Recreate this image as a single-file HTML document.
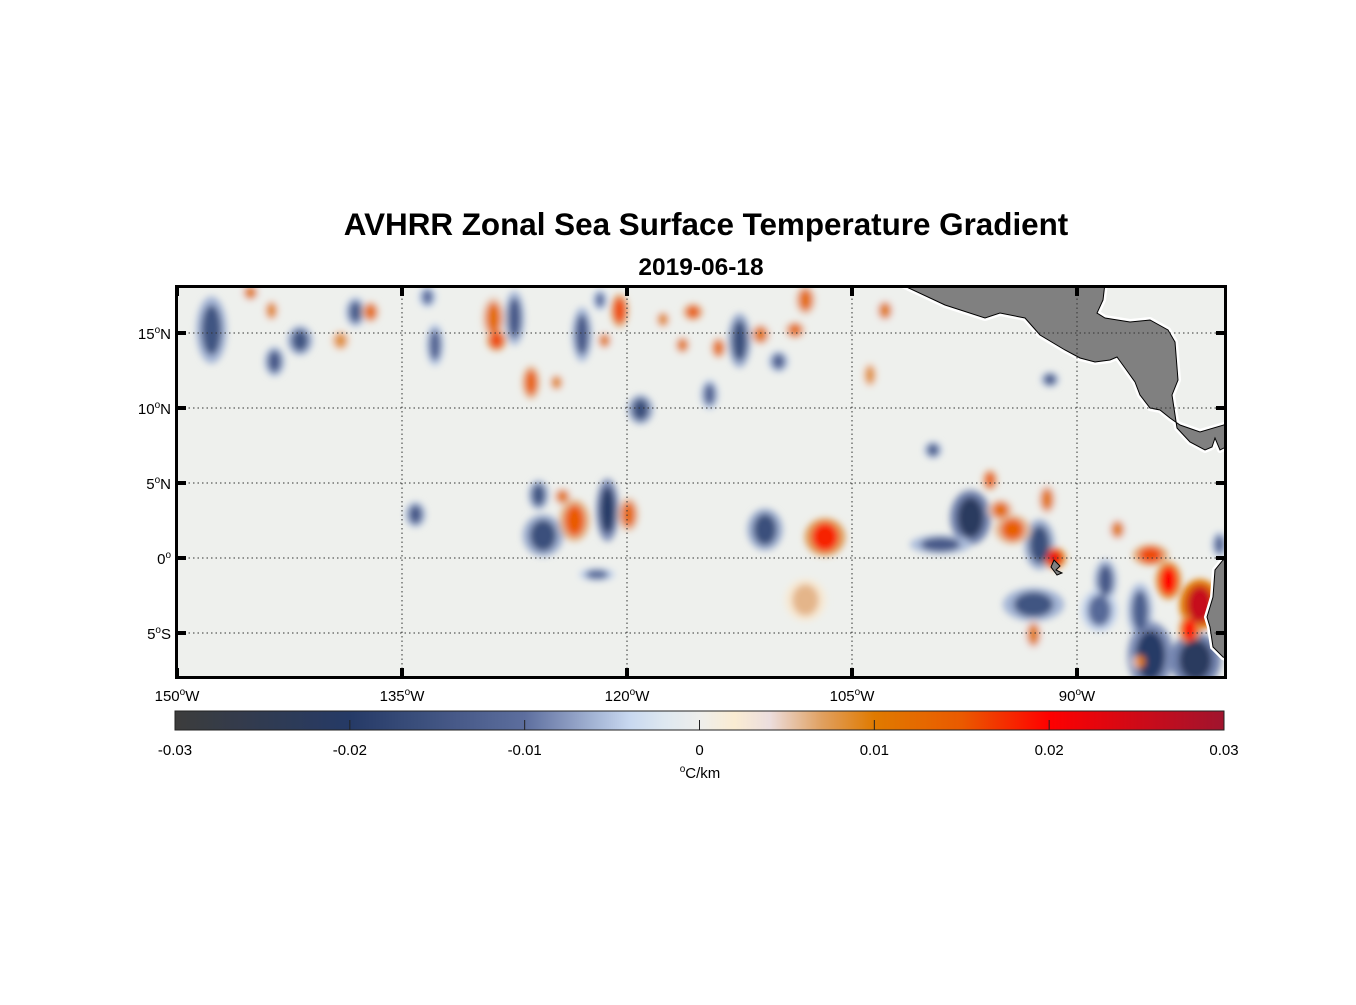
<!DOCTYPE html>
<html><head><meta charset="utf-8">
<style>
body{margin:0;background:#fff;width:1356px;height:1000px;overflow:hidden;font-family:"Liberation Sans",Arial,sans-serif;}
svg text{font-family:"Liberation Sans",Arial,sans-serif;}
</style></head>
<body>
<svg id="chart" width="1356" height="1000" viewBox="0 0 1356 1000" xmlns="http://www.w3.org/2000/svg">
<defs>
<clipPath id="mapclip"><rect x="177" y="288" width="1048" height="390"/></clipPath>
<filter id="blur" x="-50%" y="-50%" width="200%" height="200%"><feGaussianBlur stdDeviation="3.5"/></filter>
<linearGradient id="cbgrad" x1="0" x2="1" y1="0" y2="0"></linearGradient>
</defs>
<text x="706" y="235" text-anchor="middle" font-size="31.4" font-weight="bold">AVHRR Zonal Sea Surface Temperature Gradient</text>
<text x="701" y="275" text-anchor="middle" font-size="24.5" font-weight="bold">2019-06-18</text>
<g id="map" clip-path="url(#mapclip)">
<rect x="175" y="285" width="1052" height="394" fill="#eef0ed"/>
<g id="blobs" filter="url(#blur)"></g>
<g id="land">
<polygon fill="#808080" stroke="#fff" stroke-width="6" stroke-linejoin="round" points="898,283 945,305 985,318 1000,313 1025,318 1040,335 1065,350 1080,358 1095,362 1110,360 1117,357 1125,368 1135,382 1140,395 1150,408 1160,410 1170,418 1180,425 1200,432 1227,424 1230,420 1230,445 1220,450 1215,438 1212,447 1205,450 1190,442 1177,428 1172,395 1178,380 1175,342 1168,330 1150,320 1130,322 1105,318 1097,313 1103,300 1105,283"/>
<polygon fill="#808080" stroke="#000" stroke-width="1" points="898,283 945,305 985,318 1000,313 1025,318 1040,335 1065,350 1080,358 1095,362 1110,360 1117,357 1125,368 1135,382 1140,395 1150,408 1160,410 1170,418 1180,425 1200,432 1227,424 1230,420 1230,445 1220,450 1215,438 1212,447 1205,450 1190,442 1177,428 1172,395 1178,380 1175,342 1168,330 1150,320 1130,322 1105,318 1097,313 1103,300 1105,283"/>
<polygon fill="#808080" stroke="#fff" stroke-width="6" points="1230,558 1223,560 1215,570 1213,597 1207,617 1210,627 1213,647 1223,657 1230,660"/>
<polygon fill="#808080" stroke="#000" stroke-width="1" points="1230,558 1223,560 1215,570 1213,597 1207,617 1210,627 1213,647 1223,657 1230,660"/>
<polygon fill="#808080" stroke="#000" stroke-width="1" points="1054,560 1060,566 1056,570 1062,573 1057,575 1051,567"/>
</g>
<g id="grid"></g>
</g>
<rect x="176.5" y="286.5" width="1049" height="391" fill="none" stroke="#000" stroke-width="3"/>
<g id="ticks"></g>
<g id="cb">
<rect x="175" y="711" width="1049" height="19" fill="url(#cbgrad)" stroke="#222" stroke-width="1"/>
</g>
<text x="700" y="778" text-anchor="middle" font-size="15"><tspan font-size="10" dy="-6">o</tspan><tspan dy="6">C/km</tspan></text>
</svg>
<script>
// Data arrays
const blobLon = [-147.7,-141.8,-143.5,-138.1,-132.8,-133.3,-127.5,-123.0,-121.8,-119.1,-114.5,-112.5,-109.9,-125.9,-125.6,-121.3,-134.1,-110.8,-122.0,-97.1,-99.1,-92.5,-92.9,-88.1,-88.5,-85.8,-85.1,-82.1,-91.8,-99.6,-80.5,
 -145.1,-143.7,-137.1,-139.1,-128.9,-128.7,-126.4,-124.7,-121.5,-120.5,-117.6,-115.6,-116.3,-113.9,-111.1,-108.8,-108.1,-102.8,-124.3,-123.5,-119.9,-106.8,-95.8,-95.1,-94.3,-92.0,-91.5,-85.1,-83.9,-81.8,-82.5,-87.3,-92.9,-85.8,-108.1,-103.8];
const blobLat = [15.2,14.5,13.1,16.4,14.2,17.4,16.0,14.9,17.2,9.9,10.9,14.5,13.1,4.2,1.5,3.2,2.9,1.9,-1.1,2.7,0.9,0.9,-3.1,-1.5,-3.5,-3.5,-6.5,-6.8,11.9,7.2,0.9,
 17.7,16.5,16.4,14.5,16.0,14.5,11.7,11.7,14.5,16.5,15.9,16.4,14.2,14.0,14.9,15.2,17.2,16.5,4.1,2.5,2.9,1.4,5.2,3.2,1.9,3.9,0.0,0.2,-1.5,-3.1,-4.8,1.9,-5.1,-6.9,-2.8,12.2];
const blobVal = [-0.015,-0.015,-0.014,-0.013,-0.012,-0.010,-0.014,-0.014,-0.010,-0.016,-0.012,-0.016,-0.012,-0.015,-0.016,-0.020,-0.014,-0.016,-0.011,-0.022,-0.014,-0.016,-0.015,-0.014,-0.011,-0.013,-0.020,-0.022,-0.014,-0.013,-0.012,
 0.010,0.009,0.012,0.008,0.012,0.016,0.014,0.009,0.010,0.016,0.009,0.014,0.011,0.012,0.011,0.012,0.012,0.010,0.011,0.015,0.013,0.018,0.014,0.012,0.014,0.011,0.022,0.016,0.020,0.026,0.020,0.010,0.010,0.010,0.006,0.008];
const blobRx = [0.6,0.5,0.4,0.4,0.35,0.35,0.4,0.4,0.3,0.5,0.35,0.45,0.4,0.4,0.8,0.45,0.4,0.7,0.7,0.8,1.2,0.6,1.2,0.45,0.7,0.5,0.9,1.0,0.35,0.35,0.3,
 0.35,0.3,0.35,0.4,0.45,0.4,0.35,0.3,0.3,0.35,0.3,0.4,0.3,0.3,0.4,0.4,0.4,0.35,0.35,0.6,0.4,0.8,0.3,0.5,0.7,0.35,0.45,0.7,0.5,0.8,0.4,0.35,0.35,0.3,0.8,0.3];
const blobRy = [1.6,0.7,0.7,0.7,1.0,0.5,1.3,1.3,0.5,0.7,0.7,1.3,0.5,0.7,1.0,1.5,0.6,1.0,0.3,1.3,0.45,1.2,0.8,1.0,1.0,1.3,1.6,1.3,0.35,0.4,0.6,
 0.4,0.5,0.5,0.5,1.0,0.5,0.8,0.4,0.4,0.8,0.4,0.4,0.4,0.5,0.5,0.4,0.7,0.5,0.4,1.0,0.8,0.9,0.5,0.5,0.7,0.7,0.5,0.5,0.9,1.2,0.7,0.5,0.7,0.4,1.0,0.6];
const lonTicks = [-150,-135,-120,-105,-90];
const lonLabels = ["150","135","120","105","90"];
const latTicks = [15,10,5,0,-5];
const latLabels = ["15","10","5","0","5"];
const latSuffix = ["N","N","N","",'S'];
const cbTicks = [-0.03,-0.02,-0.01,0,0.01,0.02,0.03];
const cbLabels = ["-0.03","-0.02","-0.01","0","0.01","0.02","0.03"];

const X0=177, Y0=558, PPD=15;
function xScale(lon){return X0+(lon+150)*PPD;}
function yScale(lat){return Y0-lat*PPD;}
function cbScale(v){return 175+(v+0.03)/0.06*1049;}
const stops=[[-0.03,[60,60,60]],[-0.02,[37,58,102]],[-0.01,[93,110,158]],[-0.004,[200,216,240]],[-0.002,[222,232,240]],[0,[238,238,236]],[0.002,[250,236,210]],[0.004,[236,222,222]],[0.007,[224,160,96]],[0.01,[224,122,0]],[0.015,[234,90,0]],[0.02,[255,0,0]],[0.03,[160,20,46]]];
function cmap(v){
 if(v<=stops[0][0])return 'rgb('+stops[0][1]+')';
 for(let i=1;i<stops.length;i++){ if(v<=stops[i][0]){const a=stops[i-1],b=stops[i];const t=(v-a[0])/(b[0]-a[0]);
   return 'rgb('+a[1].map((c,k)=>Math.round(c+(b[1][k]-c)*t)).join(',')+')';}}
 return 'rgb('+stops[stops.length-1][1]+')';
}
const NS='http://www.w3.org/2000/svg';
function mk(tag,attrs,parent){const e=document.createElementNS(NS,tag);for(const k in attrs)e.setAttribute(k,attrs[k]);parent.appendChild(e);return e;}

const blobs=document.getElementById('blobs');
for(let i=0;i<blobVal.length;i++){
 const halo=mk('ellipse',{cx:xScale(blobLon[i]),cy:yScale(blobLat[i]),rx:blobRx[i]*PPD*1.7,ry:blobRy[i]*PPD*1.4,fill:cmap(blobVal[i]*0.4)},blobs);
 
 
}
for(let i=0;i<blobVal.length;i++){
 const e=mk('ellipse',{cx:xScale(blobLon[i]),cy:yScale(blobLat[i]),rx:blobRx[i]*PPD*1.1,ry:blobRy[i]*PPD*1.05,fill:cmap(blobVal[i])},blobs);
 
 
}
const grid=document.getElementById('grid');
lonTicks.slice(1).forEach(l=>{const g=mk('line',{x1:xScale(l),x2:xScale(l),y1:285,y2:679,stroke:'#333','stroke-width':1,'stroke-dasharray':'1.5,3'},grid);
 
 });
latTicks.forEach(l=>{const g=mk('line',{x1:175,x2:1227,y1:yScale(l),y2:yScale(l),stroke:'#333','stroke-width':1,'stroke-dasharray':'1.5,3'},grid);
 
 });
const ticks=document.getElementById('ticks');
lonTicks.forEach((l,i)=>{const x=xScale(l);
 mk('line',{x1:x,x2:x,y1:285,y2:296,stroke:'#000','stroke-width':4},ticks);
 mk('line',{x1:x,x2:x,y1:668,y2:679,stroke:'#000','stroke-width':4},ticks);
 const t=mk('text',{x:x,y:701,'text-anchor':'middle','font-size':15},ticks);
 
 
 t.innerHTML=lonLabels[i]+'<tspan font-size="10" dy="-6">o</tspan><tspan dy="6">W</tspan>';});
latTicks.forEach((l,i)=>{const y=yScale(l);
 mk('line',{x1:175,x2:186,y1:y,y2:y,stroke:'#000','stroke-width':4},ticks);
 mk('line',{x1:1216,x2:1227,y1:y,y2:y,stroke:'#000','stroke-width':4},ticks);
 const t=mk('text',{x:171,y:y+6,'text-anchor':'end','font-size':15},ticks);
 
 
 t.innerHTML=latLabels[i]+'<tspan font-size="10" dy="-6">o</tspan><tspan dy="6">'+latSuffix[i]+'</tspan>';});
const grad=document.getElementById('cbgrad');
for(let k=0;k<=60;k++){const v=-0.03+k*0.001;mk('stop',{offset:(k/60),'stop-color':cmap(v)},grad);}
const cb=document.getElementById('cb');
cbTicks.forEach((v,i)=>{const x=cbScale(v);
 if(i>0&&i<cbTicks.length-1)mk('line',{x1:x,x2:x,y1:720,y2:730,stroke:'#222','stroke-width':1},cb);
 const t=mk('text',{x:x,y:755,'text-anchor':'middle','font-size':15},cb);
 
 
 t.textContent=cbLabels[i];});
</script>
</body></html>
